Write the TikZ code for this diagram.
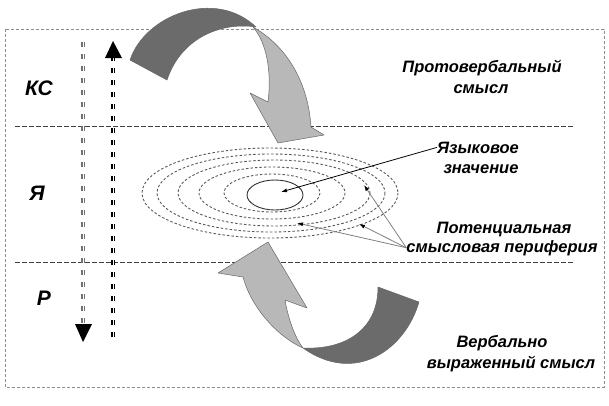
\documentclass[tikz,border=0pt]{standalone}
\usepackage{fontspec}
\setmainfont{Liberation Sans}
\usetikzlibrary{arrows.meta}
\definecolor{ribbondark}{gray}{0.42}
\definecolor{ribbonlight}{gray}{0.72}
\definecolor{framegray}{gray}{0.55}
\tikzset{
  frameline/.style={draw=framegray, dash pattern=on 3pt off 2pt, line width=0.9pt},
  levelline/.style={draw=black!75, dash pattern=on 4.5pt off 2.5pt, line width=0.6pt},
  orbit/.style={draw=black!65, dash pattern=on 2.5pt off 2pt, line width=0.9pt},
  levellabel/.style={font=\fontsize{21}{24}\selectfont\bfseries\itshape, inner sep=0pt, anchor=base},
  textlabel/.style={font=\fontsize{16.5}{19}\selectfont\bfseries\itshape, inner sep=0pt, anchor=base},
  leader/.style={-{Latex[length=6pt,width=4pt,color=black]}, line width=0.8pt},
  dashshaft/.style={double=white, double distance=0.7pt, line width=1.7pt, dash pattern=on 5pt off 7pt},
  ribbon/.style={draw=black!60, line width=0.5pt, line join=round},
}

\begin{document}
\begin{tikzpicture}[x=1pt, y=-1pt]
  \useasboundingbox (0,0) rectangle (609,405);

  % frame and levels
  \draw[frameline] (5,29) rectangle (604,387);
  \draw[levelline] (15,126) -- (574,126);
  \draw[levelline] (15,262) -- (574,262);

  \node[levellabel] (ks) at (39,95) {КС};
  \node[levellabel] (ya) at (37,200) {Я};
  \node[levellabel] (r) at (44,305) {Р};

  % vertical flows
  \coordinate (downtop) at (83,42);
  \coordinate (downend) at (83,325);
  \coordinate (uptop) at (113,58);
  \coordinate (upend) at (113,337);
  \draw[dashshaft, black!55] (downtop) -- (downend);
  \fill (75,324) -- (92,324) -- (83,342) -- cycle;
  \draw[dashshaft, black] (upend) -- (uptop);
  \fill (105,58) -- (122,58) -- (113,41) -- cycle;

  % orbits of meaning
  \draw[orbit] (272,193) ellipse [x radius=48, y radius=19];
  \draw[orbit] (272,193) ellipse [x radius=73, y radius=26];
  \draw[orbit] (274,193) ellipse [x radius=96, y radius=33];
  \draw[orbit] (271,193) ellipse [x radius=114, y radius=39];
  \draw[orbit] (270,193) ellipse [x radius=128, y radius=45];
  \draw[line width=0.9pt, black!80] (275,195) ellipse [x radius=28, y radius=15];

  \coordinate (core) at (281,192);
  \coordinate (per1) at (364,185);
  \coordinate (per2) at (359,224);
  \coordinate (per3) at (297,223);

  % labels on the right
  \node[textlabel] (proto1) at (482,72) {Протовербальный};
  \node[textlabel] (proto2) at (481,93) {смысл};
  \node[textlabel] (yaz1) at (478,153) {Языковое};
  \node[textlabel] (yaz2) at (481,173) {значение};
  \node[textlabel] (pot1) at (504,233) {Потенциальная};
  \node[textlabel] (pot2) at (502,252) {смысловая периферия};
  \node[textlabel] (verb1) at (502,347) {Вербально};
  \node[textlabel] (verb2) at (511,368) {выраженный смысл};

  \draw[leader, black] (yaz1.west) -- (core);
  \draw[leader, black!50] (pot2.west) -- (per1);
  \draw[leader, black!50] (pot2.west) -- (per2);
  \draw[leader, black!50] (pot2.west) -- (per3);

  % upper ribbon arrow
  \draw[ribbon, fill=ribbonlight] (253,27) .. controls (285,45) and (308,80) .. (311,127)
    -- (324,135) -- (278,143) -- (250,93) -- (268,102) .. controls (272,70) and (266,42) .. (253,27) -- cycle;
  \draw[ribbon, fill=ribbondark] (130,60) .. controls (145,15) and (215,-12) .. (256,27)
    .. controls (225,22) and (182,35) .. (167,80) -- cycle;

  % lower ribbon arrow
  \draw[ribbon, fill=ribbonlight] (303,348) .. controls (280,338) and (252,310) .. (243,277)
    -- (218,273) -- (268,242) -- (307,308) -- (285,300) .. controls (288,318) and (295,338) .. (303,348) -- cycle;
  \draw[ribbon, fill=ribbondark] (378,287) -- (419,302) .. controls (405,350) and (355,385) .. (303,348)
    .. controls (345,350) and (378,330) .. (378,287) -- cycle;
\end{tikzpicture}
\end{document}
